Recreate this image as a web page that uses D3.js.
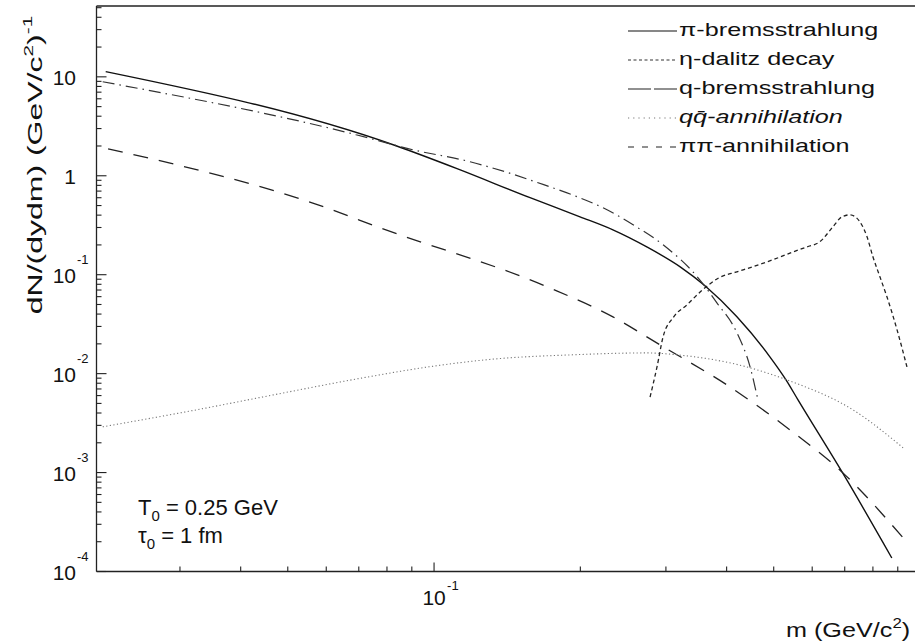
<!DOCTYPE html>
<html>
<head>
<meta charset="utf-8">
<script src="https://cdn.jsdelivr.net/npm/d3@7"></script>
<style>
  body { margin: 0; background: #fff; }
  text { font-family: "Liberation Sans", Arial, Helvetica, sans-serif; fill: #111; }
</style>
</head>
<body>
<div id="chart"></div>
<script>
// Values: [m (GeV/c^2), dN/(dydm)]
const piBrems = [[0.0211, 11.3], [0.0835, 2.01], [0.1115, 1.18], [0.1576, 0.60], [0.1997, 0.385],
  [0.2334, 0.284], [0.274, 0.191], [0.321, 0.120], [0.361, 0.0772], [0.420, 0.0375],
  [0.491, 0.0148], [0.530, 0.00865], [0.561, 0.00543], [0.701, 0.000903], [0.875, 0.000137]];
const etaDalitz = [[0.0208, 8.92], [0.0691, 2.60], [0.0905, 1.83], [0.1186, 1.386], [0.140, 1.098],
  [0.1637, 0.850], [0.1923, 0.642], [0.2227, 0.475], [0.2568, 0.3195], [0.296, 0.2007],
  [0.348, 0.0953], [0.382, 0.052], [0.420, 0.0259], [0.447, 0.0117], [0.464, 0.00543]];
const qBrems = [[0.02134, 1.875], [0.0600, 0.475], [0.0774, 0.298], [0.1708, 0.0755], [0.2334, 0.0375],
  [0.2917, 0.01954], [0.406, 0.00736], [0.540, 0.0027], [0.694, 0.000993], [0.923, 0.000219]];
const qqAnn = [[0.0208, 0.0029], [0.0324, 0.0043], [0.0445, 0.00582], [0.0714, 0.00907], [0.0976, 0.01172],
  [0.134, 0.0141], [0.193, 0.0155], [0.274, 0.0162], [0.316, 0.0155], [0.447, 0.01145],
  [0.532, 0.00865], [0.728, 0.0043], [0.923, 0.00178]];
const pipiAnn = [[0.2783, 0.0058], [0.2876, 0.0117], [0.296, 0.0235], [0.3113, 0.0375], [0.3316, 0.0497],
  [0.357, 0.0704], [0.386, 0.0932], [0.420, 0.107], [0.452, 0.12], [0.498, 0.1416], [0.548, 0.170],
  [0.585, 0.191], [0.622, 0.215], [0.662, 0.305], [0.691, 0.385], [0.718, 0.403], [0.752, 0.343],
  [0.778, 0.2415], [0.800, 0.152], [0.827, 0.0953], [0.855, 0.0598], [0.897, 0.0277], [0.940, 0.0117]];

const legendLabels = ["π-bremsstrahlung", "η-dalitz decay", "q-bremsstrahlung", "qq̄-annihilation", "ππ-annihilation"];
const yMajor = [1e-4, 1e-3, 1e-2, 1e-1, 1, 10];
const yExp = ["-4", "-3", "-2", "-1", null, null];
const xLabelValue = 0.1;

const W = 915, H = 643;
const svg = d3.select("#chart").append("svg")
  .attr("width", W).attr("height", H);

// log scales (left edge of frame at x=96.5, bottom at y=571.5)
const x = d3.scaleLog().domain([0.0202, 1]).range([96.5, 920]);
const y = d3.scaleLog().domain([1e-4, 52]).range([571.5, 6]);

svg.append("defs").append("clipPath").attr("id", "plot")
  .append("rect").attr("x", 97).attr("y", 6).attr("width", W - 97).attr("height", 565.5);

// frame: left, bottom, top
const frame = svg.append("g").attr("stroke", "#222").attr("stroke-width", 1.3).attr("fill", "none");
frame.append("line").attr("x1", x.range()[0]).attr("x2", x.range()[0]).attr("y1", y.range()[1]).attr("y2", y.range()[0]);
frame.append("line").attr("x1", x.range()[0]).attr("x2", W).attr("y1", y.range()[0]).attr("y2", y.range()[0]);
frame.append("line").attr("x1", x.range()[0]).attr("x2", W).attr("y1", y.range()[1]).attr("y2", y.range()[1]);

// y ticks (inside)
const yTicks = [];
for (let e = -4; e <= 1; e++) for (let k = 1; k <= 9; k++) {
  const v = k * Math.pow(10, e);
  if (v <= y.domain()[1]) yTicks.push({ v, major: k === 1 });
}
svg.append("g").attr("stroke", "#222").attr("stroke-width", 1.1)
  .selectAll("line").data(yTicks).join("line")
  .attr("x1", x.range()[0]).attr("x2", d => x.range()[0] + (d.major ? 10 : 5))
  .attr("y1", d => y(d.v)).attr("y2", d => y(d.v));

// x ticks (inside)
const xTicks = [];
for (let e = -2; e <= -1; e++) for (let k = 1; k <= 9; k++) {
  const v = k * Math.pow(10, e);
  if (v > x.domain()[0] && v < 0.99) xTicks.push({ v, major: k === 1 });
}
svg.append("g").attr("stroke", "#222").attr("stroke-width", 1.1)
  .selectAll("line").data(xTicks).join("line")
  .attr("x1", d => x(d.v)).attr("x2", d => x(d.v))
  .attr("y1", y.range()[0]).attr("y2", d => y.range()[0] - (d.major ? 9 : 5));

// y tick labels
yMajor.forEach((v, i) => {
  const base = v >= 1 ? String(v) : "10";
  svg.append("text").attr("x", 76).attr("y", y(v) + 8)
    .attr("text-anchor", "end").attr("font-size", 21).text(base);
  if (yExp[i]) svg.append("text").attr("x", 77).attr("y", y(v) - 11)
    .attr("font-size", 13).text(yExp[i]);
});

// x tick label
svg.append("text").attr("x", x(xLabelValue)).attr("y", 605)
  .attr("text-anchor", "middle").attr("font-size", 21).text("10");
svg.append("text").attr("x", x(xLabelValue) + 13).attr("y", 590)
  .attr("font-size", 13).text("-1");

// curves
const line = d3.line()
  .x(d => x(d[0]))
  .y(d => y(d[1]))
  .curve(d3.curveMonotoneX);

const series = [
  { data: piBrems, dash: null, color: "#111", w: 1.4 },
  { data: etaDalitz, dash: "12,5,1.5,5", color: "#333", w: 1.2 },
  { data: qBrems, dash: "15,11", color: "#222", w: 1.3 },
  { data: qqAnn, dash: "1.2,2.4", color: "#777", w: 1.1 },
  { data: pipiAnn, dash: "4,3", color: "#222", w: 1.3 }
];

const plot = svg.append("g").attr("clip-path", "url(#plot)");
plot.selectAll("path").data(series).join("path")
  .attr("fill", "none")
  .attr("stroke", d => d.color)
  .attr("stroke-width", d => d.w)
  .attr("stroke-dasharray", d => d.dash)
  .attr("d", d => line(d.data));

// legend
const legendDash = [null, "3,2.5", "23,3", "1.2,4", "6,8"];
const legend = svg.append("g");
legendLabels.forEach((label, i) => {
  const by = 36 + i * 29;
  legend.append("line")
    .attr("x1", 628).attr("x2", 677).attr("y1", by - 5).attr("y2", by - 5)
    .attr("stroke", series[i].color).attr("stroke-width", 1.2)
    .attr("stroke-dasharray", legendDash[i]);
  legend.append("g").attr("transform", `translate(679,${by}) scale(1.4,1)`)
    .append("text").attr("font-size", 18)
    .attr("font-style", i === 3 ? "italic" : "normal")
    .text(label);
});

// axis titles
svg.append("g").attr("transform", "translate(786,637) scale(1.2,1)")
  .append("text").attr("font-size", 21)
  .call(t => {
    t.append("tspan").text("m (GeV/c");
    t.append("tspan").attr("font-size", 14).attr("dy", -9).text("2");
    t.append("tspan").attr("dy", 9).text(")");
  });

svg.append("g").attr("transform", "translate(42,165) rotate(-90) scale(1.6,1)")
  .append("text").attr("font-size", 20).attr("text-anchor", "middle")
  .call(t => {
    t.append("tspan").text("dN/(dydm) (GeV/c");
    t.append("tspan").attr("font-size", 13).attr("dy", -9).text("2");
    t.append("tspan").attr("dy", 9).text(")");
    t.append("tspan").attr("font-size", 13).attr("dy", -10).text("-1");
  });

// annotation
const note = svg.append("g").attr("font-size", 22);
note.append("text").attr("x", 138).attr("y", 515).call(t => {
  t.append("tspan").text("T");
  t.append("tspan").attr("font-size", 15).attr("dy", 6).text("0");
  t.append("tspan").attr("dy", -6).text(" = 0.25 GeV");
});
note.append("text").attr("x", 138).attr("y", 543).call(t => {
  t.append("tspan").text("τ");
  t.append("tspan").attr("font-size", 15).attr("dy", 6).text("0");
  t.append("tspan").attr("dy", -6).text(" = 1 fm");
});
</script>
</body>
</html>
